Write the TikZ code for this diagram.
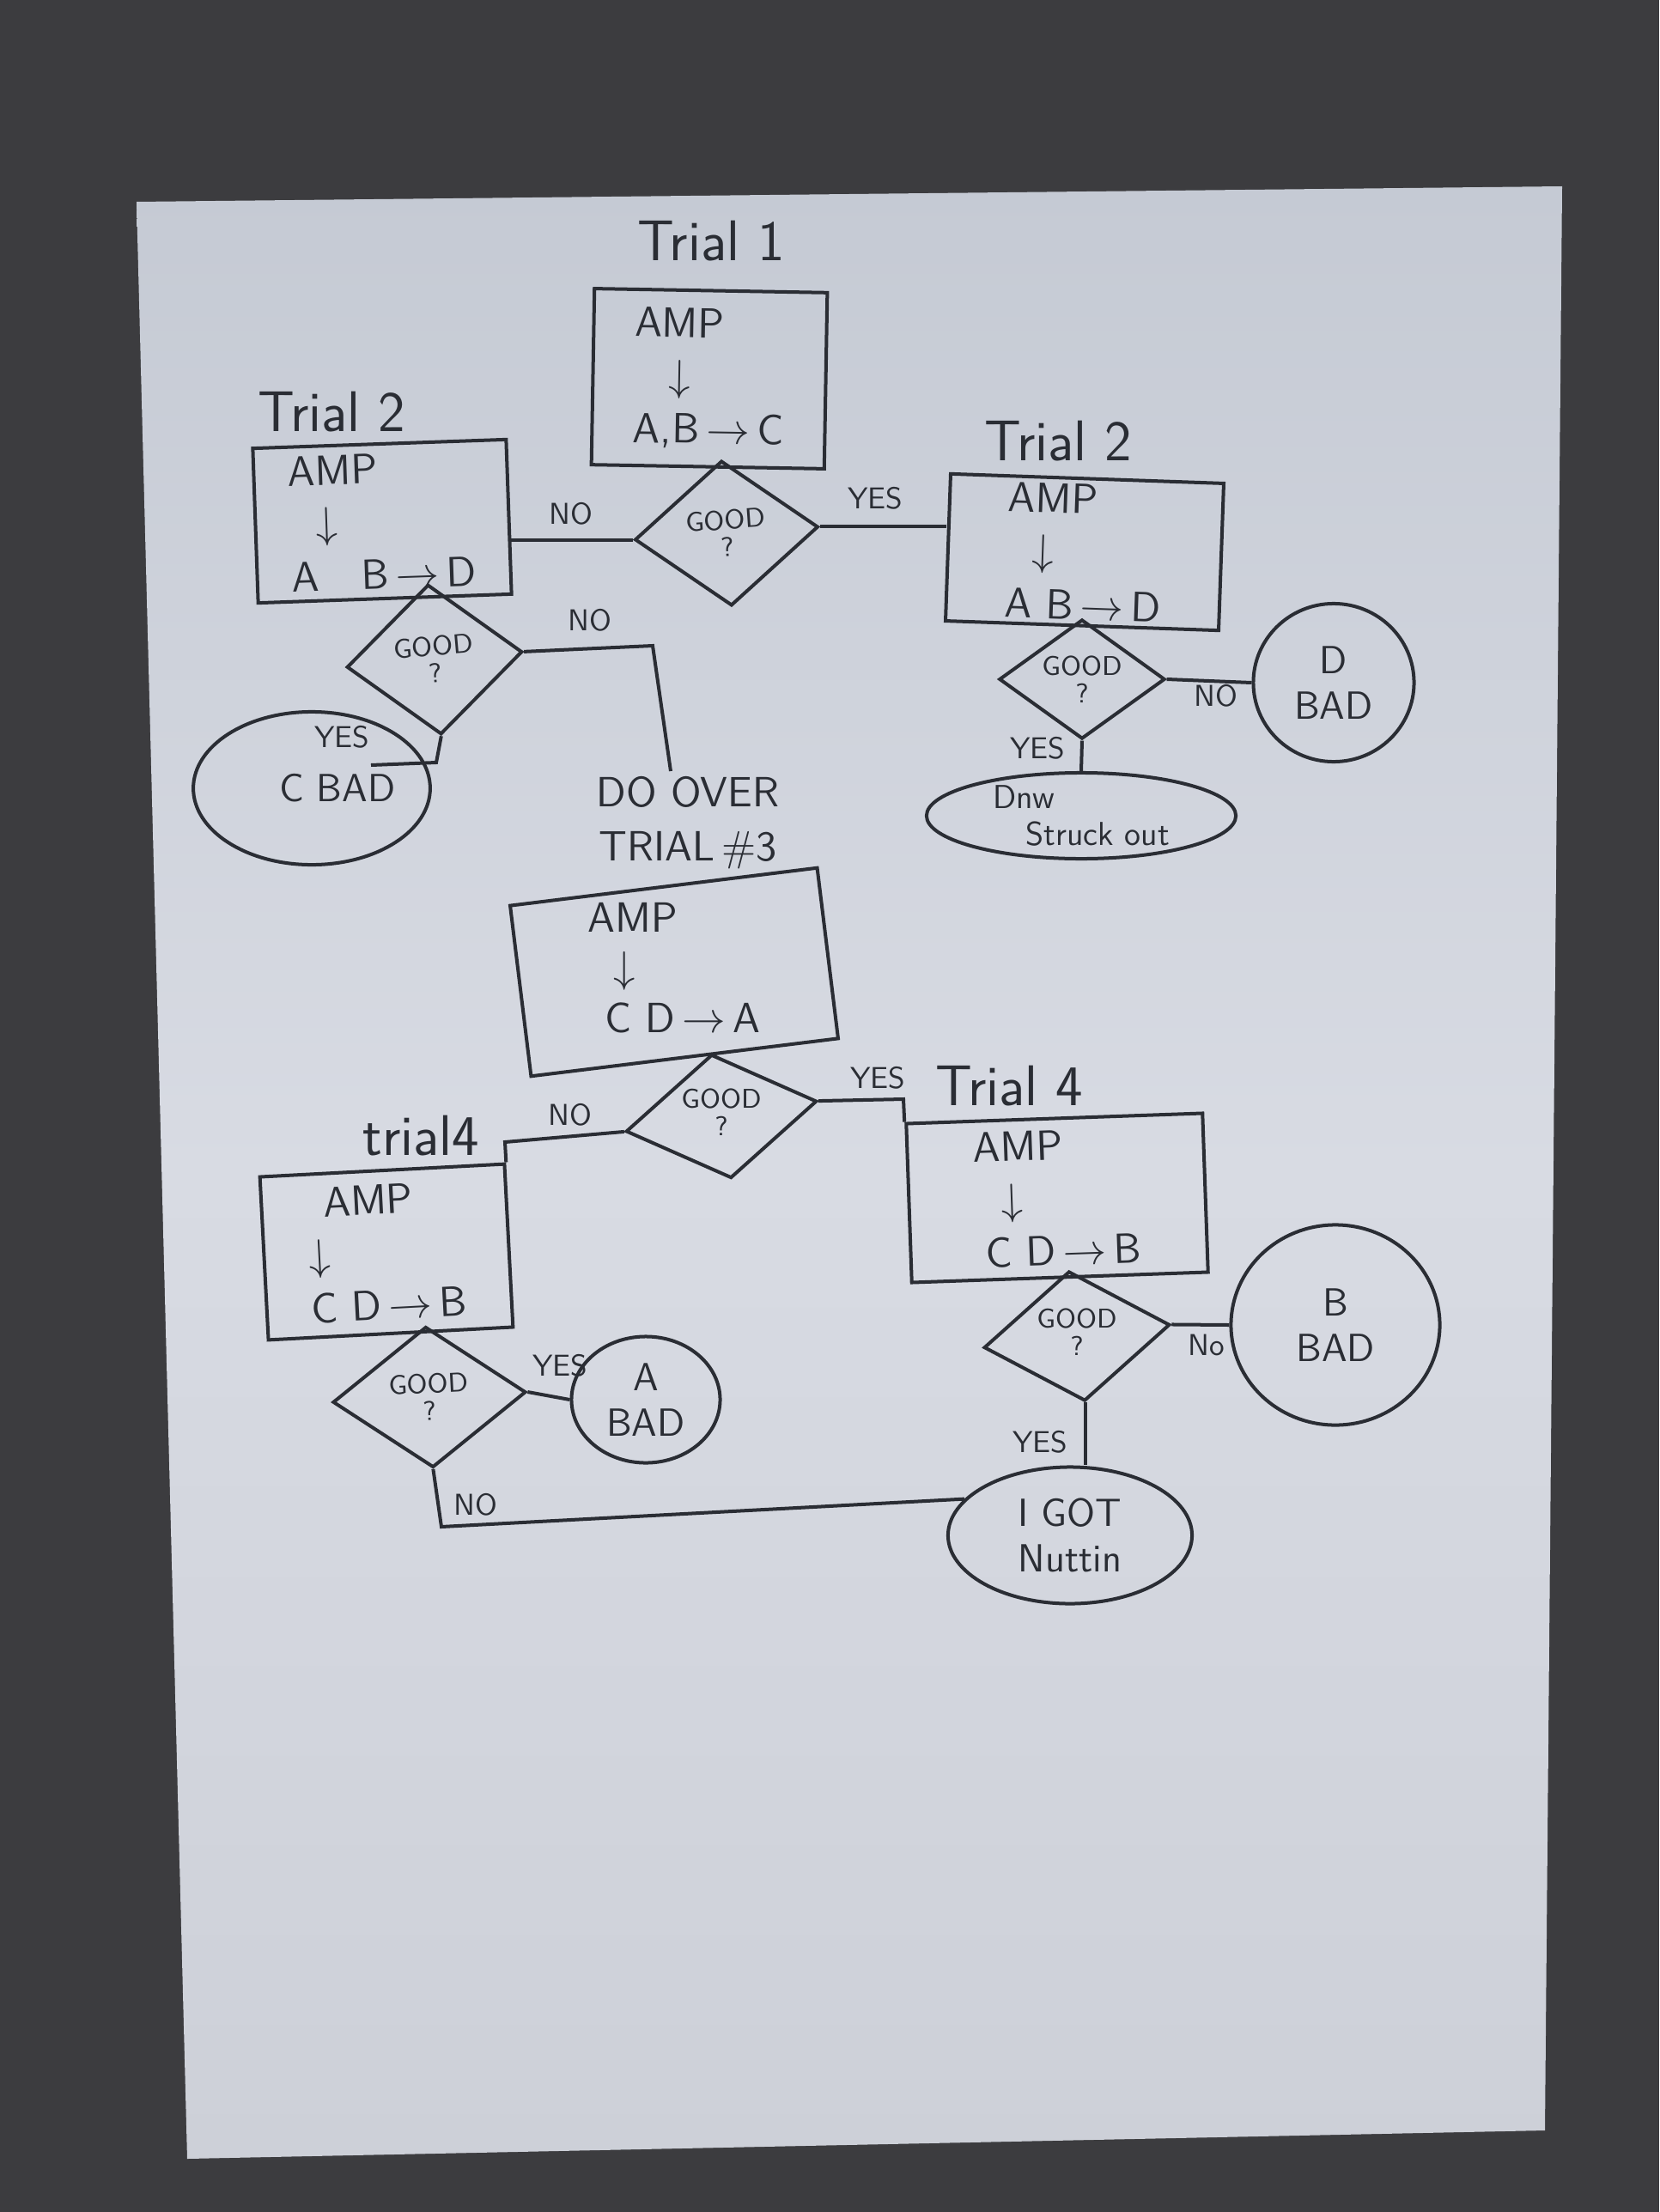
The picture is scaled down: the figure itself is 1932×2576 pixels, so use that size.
\documentclass[tikz,border=0pt]{standalone}
\usepackage{amsmath}
\usepackage{amssymb}
\usepackage{graphicx}
\usepackage{tikz}
\usetikzlibrary{positioning, shapes.geometric}
\definecolor{tinta}{RGB}{42,45,52}
\definecolor{alfombra}{RGB}{60,60,63}
\definecolor{hojaarriba}{RGB}{197,202,212}
\definecolor{hojamedio}{RGB}{216,219,227}
\definecolor{hojaabajo}{RGB}{205,208,216}
\tikzset{wire/.style={line width=0.4mm, draw=tinta}}
\tikzset{trialbox/.style={wire, rectangle, align=left, inner ysep=2pt, font=\sffamily\fontsize{14}{17.5}\selectfont}}
\tikzset{check/.style={wire, diamond, aspect=1.5, inner sep=0pt, align=center, font=\sffamily\fontsize{9}{9}\selectfont}}
\tikzset{result/.style={wire, ellipse, inner sep=0pt, align=center, font=\sffamily\fontsize{13}{15}\selectfont}}
\tikzset{tag/.style={font=\sffamily\fontsize{10}{12}\selectfont}}
\tikzset{heading/.style={font=\sffamily\fontsize{19}{22}\selectfont}}

\begin{document}
\begin{tikzpicture}[x=0.01cm, y=-0.01cm, every node/.style={text=tinta}]
            \useasboundingbox (0,0) rectangle (1932,2576);
            \fill[alfombra] (0,0) rectangle (1932,2576);
            \shade[top color=hojaarriba, bottom color=hojaabajo, middle color=hojamedio] (159,235) -- (1819,217) -- (1799,2481) -- (218,2514) -- cycle;

            \node[trialbox, minimum width=2.71cm, minimum height=2.05cm, rotate=-1] (b1) at (826,441) {AMP\\\hspace{4mm}$\downarrow$\\A,B$\,\to\,$C};
            \node[heading, above=2mm of b1] (t1) {Trial 1};
            \node[check, minimum width=2.14cm, minimum height=1.69cm, rotate=4] (d1) at (846,621) {GOOD\\?};

            \node[trialbox, minimum width=2.95cm, minimum height=1.8cm, rotate=2] (b2) at (445,607) {AMP\\\hspace{3mm}$\downarrow$\\A\quad B$\,\to\,$D};
            \node[heading] (t2) at (386,480) {Trial 2};
            \node[check, minimum width=2.05cm, minimum height=1.75cm, rotate=5] (d2) at (506,768) {GOOD\\?};
            \node[result, minimum width=2.28cm, minimum height=1.78cm] (e1) at (363,918) {\hspace{6mm}C BAD};

            \node[trialbox, minimum width=3.18cm, minimum height=1.65cm, rotate=-2] (b3) at (1263,643) {AMP\\\hspace{3mm}$\downarrow$\\A B$\,\to\,$D};
            \node[heading] (t3) at (1232,514) {Trial 2};
            \node[check, minimum width=1.93cm, minimum height=1.39cm] (d3) at (1260,791) {GOOD\\?};
            \node[result, minimum width=1.87cm, minimum height=1.84cm] (e2) at (1553,795) {D\\BAD};
            \node[result, minimum width=3.6cm, minimum height=1.0cm, inner ysep=-2mm, align=left, font=\sffamily\fontsize{11}{12}\selectfont] (e3) at (1259,950) {Dnw\\\quad Struck out};

            \node[heading, align=center, font=\sffamily\fontsize{14}{18}\selectfont] (t4) at (801,958) {DO OVER\\TRIAL\,\#3};
            \node[trialbox, inner sep=0pt, minimum width=3.6cm, minimum height=2.0cm, rotate=7] (b4) at (785,1132) {\renewcommand{\arraystretch}{0.95}\rotatebox{-7}{\begin{tabular}{@{}l@{}}AMP\\\hspace{3mm}$\downarrow$\\\hspace{2mm}C D$\,\to\,$A\end{tabular}}};
            \node[check, minimum width=2.25cm, minimum height=1.45cm, rotate=9] (d4) at (840,1300) {\rotatebox{-9}{\begin{tabular}{@{}c@{}}GOOD\\?\end{tabular}}};

            \node[trialbox, minimum width=2.85cm, minimum height=1.9cm, rotate=3] (b5) at (450,1458) {\hspace{2mm}AMP\\$\downarrow$\\C D$\,\to\,$B};
            \node[heading] (t5) at (490,1323) {trial4};
            \node[check, minimum width=2.25cm, minimum height=1.64cm, rotate=3] (d5) at (500,1627) {GOOD\\?};
            \node[result, minimum width=1.73cm, minimum height=1.47cm] (e4) at (752,1630) {A\\BAD};

            \node[trialbox, minimum width=3.45cm, minimum height=1.85cm, rotate=2] (b6) at (1231,1395) {AMP\\\hspace{3mm}$\downarrow$\\\hspace{1mm}C D$\,\to\,$B};
            \node[heading] (t6) at (1175,1265) {Trial 4};
            \node[check, minimum width=2.18cm, minimum height=1.52cm, rotate=7] (d6) at (1254,1556) {\rotatebox{-7}{\begin{tabular}{@{}c@{}}GOOD\\?\end{tabular}}};
            \node[result, minimum width=2.43cm, minimum height=2.33cm] (e5) at (1555,1543) {B\\BAD};
            \node[result, minimum width=2.84cm, minimum height=1.59cm] (e6) at (1246,1788) {I GOT\\Nuttin};

            \node[tag] (n1) at (665,598) {NO};
            \node[tag] (y1) at (1019,580) {YES};
            \node[tag] (n2) at (687,722) {NO};
            \node[tag] (y2) at (398,858) {YES};
            \node[tag] (n3) at (1416,810) {NO};
            \node[tag] (y3) at (1208,871) {YES};
            \node[tag] (y4) at (1022,1255) {YES};
            \node[tag] (n4) at (664,1298) {NO};
            \node[tag] (y5) at (652,1590) {YES};
            \node[tag] (n5) at (554,1752) {NO};
            \node[tag] (n6) at (1405,1566) {No};
            \node[tag] (y6) at (1211,1679) {YES};

            \coordinate (c1) at (760,752);
            \coordinate (c2) at (781,898);
            \coordinate (c3) at (508,888);
            \coordinate (c4) at (432,891);
            \coordinate (c5) at (1052,1280);
            \coordinate (c6) at (588,1330);
            \coordinate (c7) at (514,1778);

            \draw[wire] (d1.west) to (d1.west -| b2.east);
            \draw[wire] (d1.east) to (d1.east -| b3.west);
            \draw[wire] (d2.east) -- (c1) -- (c2);
            \draw[wire] (d2.south) -- (c3) -- (c4);
            \draw[wire] (d3.east) to (e2.west);
            \draw[wire] (d3.south) to (e3.north);
            \draw[wire] (d4.east) -- (c5) -- (b6.north west);
            \draw[wire] (d4.west) -- (c6) -- (b5.north east);
            \draw[wire] (d5.east) to (e4.west);
            \draw[wire] (d5.south) -- (c7) -- (e6.161);
            \draw[wire] (d6.east) to (e5.west);
            \draw[wire] (d6.south) to (d6.south |- e6.north);
        \end{tikzpicture}
\end{document}
